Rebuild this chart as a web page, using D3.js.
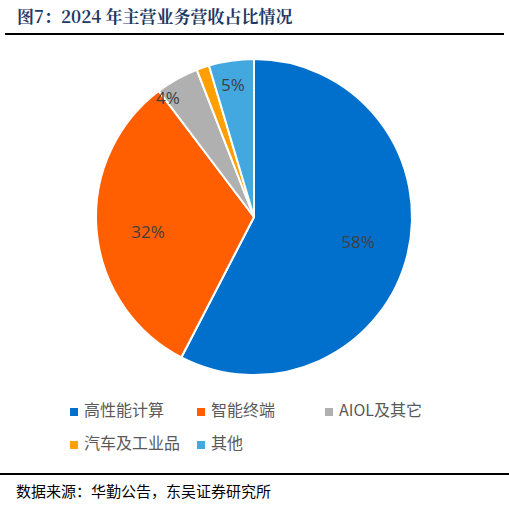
<!DOCTYPE html>
<html><head><meta charset="utf-8">
<script src="https://cdn.jsdelivr.net/npm/d3@7"></script>
<style>body{margin:0;background:#fff}</style></head>
<body><svg id="c" width="509" height="507"></svg>
<script>
const categories=["高性能计算","智能终端","AIOL及其它","汽车及工业品","其他"];
const values=[57.6,32.1,4.4,1.3,4.6];
const labels=["58%","32%","4%","","5%"];
const colors=["#0070cc","#ff5f00","#b0b0b0","#ffa000","#44a8e0"];
const svg=d3.select("#c");
svg.append("text").attr("x",17).attr("y",23).attr("font-family","'Noto Serif CJK SC','Noto Sans CJK SC',serif")
 .attr("font-weight","bold").attr("font-size",17).attr("fill","#1f3864").text("图7：2024 年主营业务营收占比情况");
svg.append("line").attr("x1",5).attr("x2",504).attr("y1",34).attr("y2",34).attr("stroke","#000").attr("stroke-width",2);
svg.append("line").attr("x1",0).attr("x2",509).attr("y1",474).attr("y2",474).attr("stroke","#000").attr("stroke-width",2);
svg.append("text").attr("x",16).attr("y",497).attr("font-family","'Noto Sans CJK SC'").attr("font-size",15).attr("fill","#000").text("数据来源：华勤公告，东吴证券研究所");
const cx=254,cy=217,R=158;
const pie=d3.pie().sort(null).value(d=>d)(values);
const arc=d3.arc().innerRadius(0).outerRadius(R);
const g=svg.append("g").attr("transform",`translate(${cx},${cy})`);
g.selectAll("path").data(pie).join("path").attr("d",arc).attr("fill",(d,i)=>colors[i]).attr("stroke","#fff").attr("stroke-width",2);
const la=d3.arc().innerRadius(R*0.75).outerRadius(R*0.75);
const lpos=[[104,26],[-106,16],[-86,-118],[0,0],[-21,-131]];
g.selectAll("text").data(pie).join("text").attr("x",(d,i)=>lpos[i][0]).attr("y",(d,i)=>lpos[i][1])
 .attr("text-anchor","middle").attr("dominant-baseline","middle").attr("font-family","'Open Sans',sans-serif").attr("font-size",17).attr("fill","#404040")
 .text((d,i)=>labels[i]);
const pos=[[74,412],[201,412],[329,412],[74,445],[201,445]];
const lg=svg.append("g");
categories.forEach((c,i)=>{
 lg.append("rect").attr("x",pos[i][0]-4).attr("y",pos[i][1]-4).attr("width",8).attr("height",8).attr("fill",colors[i]);
 lg.append("text").attr("x",pos[i][0]+10).attr("y",pos[i][1]).attr("dominant-baseline","middle").attr("font-family","'Noto Sans CJK SC'").attr("font-size",16).attr("fill","#595959").text(c);
});
</script></body></html>
